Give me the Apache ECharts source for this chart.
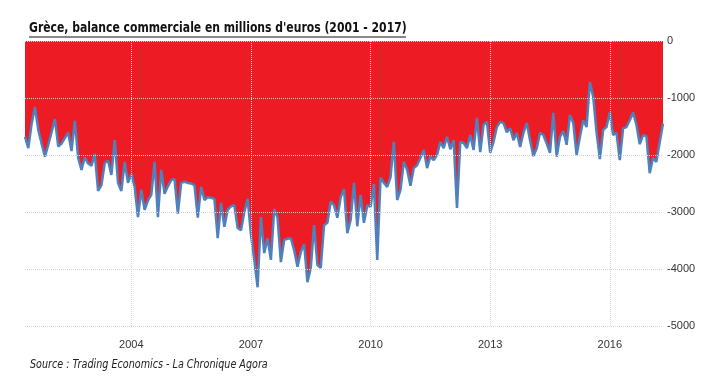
<!DOCTYPE html>
<html lang="fr">
<head>
    <meta charset="UTF-8">
    <title>Grèce, balance commerciale</title>
    <script src="https://cdn.jsdelivr.net/npm/echarts@6/dist/echarts.min.js"></script>
    <style>
        html, body { margin: 0; padding: 0; background: #fff; }
    </style>
</head>
<body>
    <div id="chart" style="width:711px; height:377px"></div>
    <script>
        // mois de mai 2001 à mai 2017 (une valeur par mois)
        var startYear = 2001
        var startMonth = 5
        var yearLabels = ['2004', '2007', '2010', '2013', '2016']
        var yTicks = [0, -1000, -2000, -3000, -4000, -5000]

        // balance commerciale, millions d'euros
        var values2001_2003 = [
            -1680, -1880, -1450, -1160, -1560, -1800, -2030, -1820, -1600, -1370,
            -1850, -1800, -1700, -1610, -1930, -1400, -2050, -2260, -2040, -2150,
            -2190, -1980, -2630, -2530, -2140, -2100, -2350, -1740, -2490, -2630,
            -2120, -2490
        ]
        var values2004_2006 = [
            -2330, -2560, -3090, -2610, -2960, -2800, -2700, -2120, -3090, -2260,
            -2680, -2550, -2440, -2420, -3030, -2490, -2470, -2490, -2500, -2530,
            -3100, -2560, -2790, -2740, -2750, -2770, -3460, -2840, -3260, -2960,
            -2900, -2880, -3280, -3320, -3000, -2770
        ]
        var values2007_2009 = [
            -3400, -3840, -4320, -3090, -3720, -3460, -3840, -2950, -3100, -3880,
            -3490, -3470, -3460, -3670, -3960, -3700, -3560, -4230, -3980, -3230,
            -3930, -3980, -3230, -3190, -2820, -2880, -3100, -2740, -2600, -3370,
            -3140, -2490, -3250, -2700, -3190, -2880
        ]
        var values2010_2012 = [
            -2910, -2510, -3840, -2400, -2490, -2560, -2390, -1770, -2790, -2610,
            -2120, -2260, -2540, -2230, -2180, -2050, -1910, -2230, -2030, -2090,
            -2000, -1770, -1880, -1680, -1900, -1740, -2930, -1770, -1790, -1880,
            -1650, -1910, -1350, -1950, -1470, -1420
        ]
        var values2013_2015 = [
            -1960, -1770, -1510, -1420, -1440, -1600, -1530, -1740, -1610, -1860,
            -1610, -1440, -1740, -2020, -1880, -1610, -1650, -1800, -1960, -1260,
            -2030, -1680, -1580, -1820, -1300, -1440, -2000, -1680, -1390, -1510,
            -720, -980, -1600, -2070, -1560, -1510
        ]
        var values2016_2017 = [
            -1250, -1650, -1610, -2090, -1530, -1510, -1390, -1250, -1470, -1810,
            -1650, -1670, -2320, -2050, -2120, -1780, -1450
        ]

        var values = values2001_2003.concat(values2004_2006, values2007_2009,
            values2010_2012, values2013_2015, values2016_2017)

        var months = []
        for (var i = 0; i < values.length; i++) {
            var m = startMonth - 1 + i
            var y = startYear + Math.floor(m / 12)
            var mm = (m % 12) + 1
            months.push(y + '-' + (mm < 10 ? '0' + mm : mm))
        }

        // seulement janvier des années affichées
        function isYearMark(index, value) {
            return value.slice(5) === '01' && yearLabels.indexOf(value.slice(0, 4)) >= 0
        }

        // grille pointillée dessinée par-dessus l'aire rouge
        var gridStyle = { color: '#d4d4d4', type: 'dotted', width: 1 }
        var gridLines = []
        for (var k = 0; k < yTicks.length; k++) {
            gridLines.push({ yAxis: yTicks[k] })
        }
        for (var k = 0; k < yearLabels.length; k++) {
            gridLines.push({ xAxis: yearLabels[k] + '-01' })
        }

        var myChart = echarts.init(document.getElementById('chart'))
        var option = {
            animation: false,
            backgroundColor: '#fff',
            grid: {
                left: 25,
                right: 48,
                top: 41,
                bottom: 51
            },
            xAxis: {
                type: 'category',
                data: months,
                boundaryGap: false,
                axisLine: { show: false },
                axisTick: { show: false },
                axisLabel: {
                    interval: isYearMark,
                    formatter: function(val) { return val.slice(0, 4) },
                    color: '#333',
                    fontSize: 11,
                    fontFamily: 'Liberation Sans',
                    margin: 13
                },
                splitLine: { show: false }
            },
            yAxis: {
                type: 'value',
                position: 'right',
                min: yTicks[yTicks.length - 1],
                max: yTicks[0],
                interval: 1000,
                axisLine: { show: false },
                axisTick: { show: false },
                axisLabel: {
                    color: '#333',
                    fontSize: 11,
                    fontFamily: 'Liberation Sans',
                    margin: 4,
                    formatter: function(val) { return String(val) }
                },
                splitLine: { show: false }
            },
            series: [{
                type: 'line',
                data: values,
                symbol: 'none',
                lineStyle: { color: '#4f81bd', width: 2.5 },
                areaStyle: { color: '#ed1c24', opacity: 1 },
                markLine: {
                    silent: true,
                    symbol: 'none',
                    label: { show: false },
                    lineStyle: gridStyle,
                    data: gridLines
                }
            }],
            graphic: [{
                type: 'text',
                x: 29,
                y: 21,
                scaleX: 0.86,
                style: {
                    text: "Grèce, balance commerciale en millions d'euros (2001 - 2017)",
                    font: 'bold 14px "DejaVu Sans Condensed", sans-serif',
                    fill: '#111'
                }
            }, {
                type: 'line',
                shape: { x1: 29, y1: 37, x2: 406, y2: 37 },
                style: { stroke: '#111', lineWidth: 1 }
            }, {
                type: 'text',
                x: 30,
                y: 359,
                scaleX: 0.89,
                style: {
                    text: 'Source : Trading Economics - La Chronique Agora',
                    font: 'italic 12px "DejaVu Sans Condensed", sans-serif',
                    fill: '#222'
                }
            }]
        }
        myChart.setOption(option)
    </script>
</body>
</html>
